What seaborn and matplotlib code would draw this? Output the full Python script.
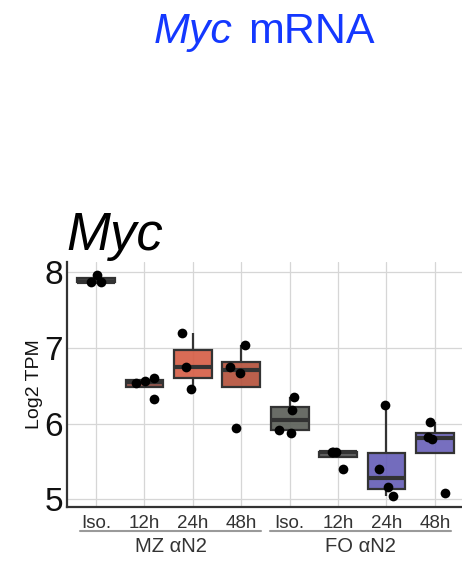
import numpy as np
import matplotlib
matplotlib.use("Agg")
import matplotlib.pyplot as plt
import pandas as pd
import seaborn as sns
from matplotlib.colors import to_rgba

# replicate values (log2 TPM) per condition
mz_iso = [7.96, 7.87, 7.86]
mz_12h = [6.56, 6.32, 6.60, 6.54]
mz_24h = [6.75, 7.19, 6.45]
mz_48h = [6.74, 6.67, 7.03, 5.94]
fo_iso = [6.35, 6.18, 5.92, 5.88]
fo_12h = [5.63, 5.62, 5.63, 5.40]
fo_24h = [6.25, 5.40, 5.17, 5.05]
fo_48h = [6.02, 5.82, 5.79, 5.08]

conditions = ["MZ Iso.", "MZ 12h", "MZ 24h", "MZ 48h",
              "FO Iso.", "FO 12h", "FO 24h", "FO 48h"]
tick_labels = ["Iso.", "12h", "24h", "48h", "Iso.", "12h", "24h", "48h"]
groups = ["MZ αN2", "FO αN2"]
colors = ["#333333", "#8a4a40", "#d65f47", "#b5523d",
          "#5d615a", "#555555", "#675fb8", "#6b63ba"]

values = [mz_iso, mz_12h, mz_24h, mz_48h, fo_iso, fo_12h, fo_24h, fo_48h]
df = pd.DataFrame({
    "cond": [c for c, v in zip(conditions, values) for _ in v],
    "tpm": [x for v in values for x in v],
})

sns.set_style("white")
plt.rcParams['font.family'] = ['Liberation Sans', 'DejaVu Sans']

fig = plt.figure(figsize=(4.62, 5.63), dpi=100)
ax = fig.add_axes([67/462, 56/563, 395/462, 245/563])

sns.boxplot(data=df, x="cond", y="tpm", hue="cond", order=conditions,
            hue_order=conditions, palette=colors, saturation=1, width=0.78,
            dodge=False, linecolor="#333333", linewidth=1.6, showfliers=False,
            showcaps=False, medianprops=dict(linewidth=3, color="#333333"),
            legend=False, ax=ax)
for p in ax.patches:
    p.set_facecolor(to_rgba(p.get_facecolor(), 0.92))

np.random.seed(3)
sns.stripplot(data=df, x="cond", y="tpm", order=conditions, color="black",
              size=7, jitter=0.24, ax=ax, zorder=5)

ax.set_xlim(-0.6, 7.56)
ax.set_ylim(4.90, 8.128)
ax.set_yticks([5, 6, 7, 8])
ax.set_xticks(range(len(conditions)))
ax.set_xticklabels(tick_labels, fontsize=13.5, color="#333333")
ax.tick_params(axis="y", labelsize=24, colors="#111111", length=0, pad=3)
ax.tick_params(axis="x", length=0, pad=6)
ax.grid(True, color="#d6d6d6", linewidth=0.9)
ax.set_axisbelow(True)
ax.set_xlabel("")
ax.set_ylabel("Log2 TPM", fontsize=14, color="#111111", labelpad=1)
for s in ["top", "right"]:
    ax.spines[s].set_visible(False)
for s in ["left", "bottom"]:
    ax.spines[s].set_color("#333333")
    ax.spines[s].set_linewidth(1.6)

# group underlines and labels
trans = ax.get_xaxis_transform()
for (x0, x1), g in zip([(-0.33, 3.41), (3.59, 7.33)], groups):
    ax.plot([x0, x1], [-0.098, -0.098], color="#9a9a9a", lw=1.5,
            transform=trans, clip_on=False)
    ax.text((x0 + x1) / 2, -0.16, g, transform=trans, ha="center",
            va="center", fontsize=14.5, color="#333333")

fig.text(66/462, 1 - 250/563, "Myc", fontsize=38, style="italic",
         ha="left", va="baseline", color="black")

fig.text(233/462, 1 - 43/563, "Myc", fontsize=31, style="italic",
         ha="right", va="baseline", color="#1438ff")
fig.text(248/462, 1 - 43/563, "mRNA", fontsize=31,
         ha="left", va="baseline", color="#1438ff")

fig.savefig("out.png", dpi=100)
